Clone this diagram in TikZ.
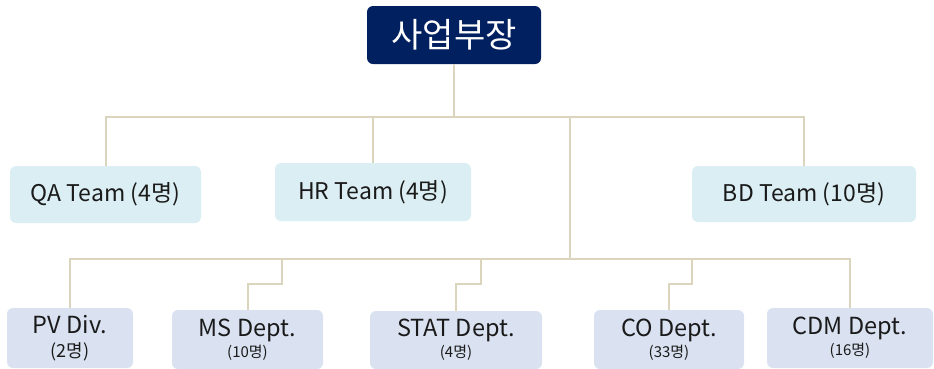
\documentclass[tikz,border=0pt]{standalone}
\usepackage{fontspec}
\setmainfont{Noto Sans CJK KR}
\definecolor{navy}{HTML}{002060}
\definecolor{teamfill}{HTML}{DBEEF3}
\definecolor{deptfill}{HTML}{DAE2F1}
\definecolor{conncol}{HTML}{DAD5BC}
\definecolor{txt}{HTML}{1A1A1A}
\begin{document}
\begin{tikzpicture}[x=1pt,y=-1pt,
  box/.style={rectangle,rounded corners=6pt,inner sep=0pt,text=txt},
  topbox/.style={box,fill=navy,text=white,font=\fontsize{34}{38}\selectfont},
  teambox/.style={box,fill=teamfill,font=\fontsize{23}{26}\selectfont},
  deptbox/.style={box,fill=deptfill,align=center,font=\fontsize{23.5}{24}\selectfont},
  conn/.style={draw=conncol,line width=2pt}]
\useasboundingbox (0,0) rectangle (934,368);
\coordinate (bus1) at (454,117);
\coordinate (j2) at (570,117);
\coordinate (bus2) at (570,259);
\coordinate (msj) at (282,284);
\coordinate (statj) at (481,284);
\coordinate (coj) at (692,284);
% boxes
\node[topbox,minimum width=174,minimum height=58] (top) at (454,35) {사업부장};
\node[teambox,minimum width=191,minimum height=57] (qa) at (105.5,194.5) {QA Team (4명)};
\node[teambox,minimum width=196,minimum height=58] (hr) at (373,192) {HR Team (4명)};
\node[teambox,minimum width=224,minimum height=56] (bd) at (804,194) {BD Team (10명)};
\node[deptbox,minimum width=126,minimum height=60] (pv) at (70,338) {PV Div.\\[0pt]{\fontsize{18}{19}\selectfont (2명)}};
\node[deptbox,minimum width=151,minimum height=59] (ms) at (247.5,339.5) {MS Dept.\\[-3pt]{\fontsize{15}{16}\selectfont (10명)}};
\node[deptbox,minimum width=172,minimum height=58] (stat) at (456,340) {STAT Dept.\\[-3pt]{\fontsize{15}{16}\selectfont (4명)}};
\node[deptbox,minimum width=150,minimum height=59] (co) at (669,339.5) {CO Dept.\\[-3pt]{\fontsize{15}{16}\selectfont (33명)}};
\node[deptbox,minimum width=166,minimum height=60] (cdm) at (850,338) {CDM Dept.\\[-3pt]{\fontsize{15}{16}\selectfont (16명)}};
% connectors
\draw[conn] (top.south) -- (bus1);
\draw[conn] (qa.north) |- (bus1);
\draw[conn] (hr.north) |- (bus1);
\draw[conn] (bd.north) |- (bus1);
\draw[conn] (j2) -- (bus2);
\draw[conn] (pv.north) |- (bus2);
\draw[conn] (cdm.north) |- (bus2);
\draw[conn] (ms.north) |- (msj) |- (bus2);
\draw[conn] (stat.north) |- (statj) |- (bus2);
\draw[conn] (co.north) |- (coj) |- (bus2);
\end{tikzpicture}
\end{document}
